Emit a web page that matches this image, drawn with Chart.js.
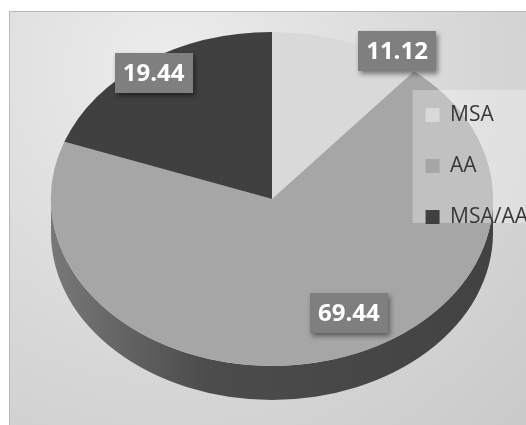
<!DOCTYPE html>
<html>
<head>
<meta charset="utf-8">
<script src="https://cdn.jsdelivr.net/npm/chart.js@4/dist/chart.umd.min.js"></script>
<style>
  html, body { margin: 0; padding: 0; background: #ffffff; }
  canvas { display: block; }
</style>
</head>
<body>
<canvas id="chart" width="526" height="425"></canvas>
<script>
// Shares of each group (percent)
const categories = ['MSA', 'AA', 'MSA/AA'];
const shares = [11.12, 69.44, 19.44];
const sliceColors = ['#d9d9d9', '#a6a6a6', '#404040'];

// Tilted pie: top-face ellipse and rim depth
const PIE = { cx: 272, cy: 199, rx: 221, ry: 167, depth: 34 };
// Value-label anchors on the unit ellipse: angle (deg, clockwise from top), radius fraction
const labelAnchors = [
  { a: 32.6, r: 1.05 },
  { a: 153, r: 0.766 },
  { a: 324.6, r: 0.925 }
];

function shade(hex, f) {
  const n = parseInt(hex.slice(1), 16);
  const r = Math.round(((n >> 16) & 255) * f);
  const g = Math.round(((n >> 8) & 255) * f);
  const b = Math.round((n & 255) * f);
  return `rgb(${r},${g},${b})`;
}

// Panel background with soft lighting from the upper left
const panelBackground = {
  id: 'panelBackground',
  beforeDraw(chart) {
    const ctx = chart.ctx;
    ctx.save();
    ctx.fillStyle = '#ffffff';
    ctx.fillRect(0, 0, chart.width, chart.height);
    const g = ctx.createRadialGradient(170, 70, 10, 170, 70, 560);
    g.addColorStop(0, '#ececec');
    g.addColorStop(0.55, '#d6d6d6');
    g.addColorStop(1, '#c6c6c6');
    ctx.fillStyle = g;
    ctx.fillRect(9, 11, chart.width - 9, chart.height - 11);
    ctx.strokeStyle = '#b8b8b8';
    ctx.lineWidth = 1;
    ctx.beginPath();
    ctx.moveTo(9.5, chart.height);
    ctx.lineTo(9.5, 11.5);
    ctx.lineTo(chart.width, 11.5);
    ctx.stroke();
    ctx.restore();
  }
};

// Draws the pie as a tilted disc: rim first, then the arcs squashed onto the ellipse
const tiltedPie = {
  id: 'tiltedPie',
  afterInit(chart) {
    // keep the legend above the pie
    const lg = chart.legend;
    lg._layers = () => [{ z: 10, draw: () => { drawLegendPanel(chart); lg.draw(); } }];
  },
  beforeDatasetsDraw(chart) {
    const ctx = chart.ctx;
    const meta = chart.getDatasetMeta(0);
    const { cx, cy, rx, ry, depth } = PIE;
    ctx.save();
    meta.data.forEach((el, i) => {
      const { startAngle, endAngle } = el.getProps(['startAngle', 'endAngle'], true);
      const a = Math.max(startAngle, 0);
      const b = Math.min(endAngle, Math.PI);
      if (b <= a) return;
      const base = sliceColors[i];
      const g = ctx.createLinearGradient(cx - rx, 0, cx + rx, 0);
      g.addColorStop(0, shade(base, 0.72));
      g.addColorStop(0.35, shade(base, 0.46));
      g.addColorStop(1, shade(base, 0.40));
      ctx.beginPath();
      ctx.ellipse(cx, cy, rx, ry, 0, a, b, false);
      ctx.ellipse(cx, cy + depth, rx, ry, 0, b, a, true);
      ctx.closePath();
      ctx.fillStyle = g;
      ctx.fill();
    });
    ctx.restore();

    const el0 = meta.data[0];
    const { x, y, outerRadius } = el0.getProps(['x', 'y', 'outerRadius'], true);
    ctx.save();
    ctx.translate(cx, cy);
    ctx.scale(rx / outerRadius, ry / outerRadius);
    ctx.translate(-x, -y);
  },
  afterDatasetsDraw(chart) {
    const ctx = chart.ctx;
    ctx.restore();
    // value labels
    const { cx, cy, rx, ry } = PIE;
    ctx.save();
    ctx.font = 'bold 24px "Open Sans", sans-serif';
    ctx.textAlign = 'center';
    ctx.textBaseline = 'middle';
    shares.forEach((v, i) => {
      const an = labelAnchors[i];
      const t = an.a * Math.PI / 180;
      const px = cx + rx * an.r * Math.sin(t);
      const py = cy - ry * an.r * Math.cos(t);
      const txt = v.toFixed(2);
      const w = ctx.measureText(txt).width + 16;
      const h = 40;
      ctx.save();
      ctx.shadowColor = 'rgba(0,0,0,0.45)';
      ctx.shadowBlur = 5;
      ctx.shadowOffsetX = 2;
      ctx.shadowOffsetY = 3;
      ctx.fillStyle = '#7f7f7f';
      ctx.fillRect(Math.round(px - w / 2), Math.round(py - h / 2), Math.round(w), h);
      ctx.restore();
      ctx.fillStyle = '#ffffff';
      ctx.fillText(txt, px, py + 1);
    });
    ctx.restore();
  }
};

function drawLegendPanel(chart) {
  const boxes = chart.legend.legendHitBoxes;
  if (!boxes || !boxes.length) return;
  const first = boxes[0], last = boxes[boxes.length - 1];
  const left = first.left - 13;
  const top = first.top + first.height / 2 - 25;
  const bottom = last.top + last.height / 2 + 6;
  const ctx = chart.ctx;
  ctx.save();
  ctx.fillStyle = 'rgba(255,255,255,0.3)';
  ctx.fillRect(left, top, chart.width - left, bottom - top);
  ctx.restore();
}

new Chart(document.getElementById('chart'), {
  type: 'pie',
  data: {
    labels: categories,
    datasets: [{
      data: shares,
      backgroundColor: sliceColors,
      borderWidth: 0,
      clip: false
    }]
  },
  options: {
    responsive: false,
    animation: false,
    devicePixelRatio: 1,
    layout: { padding: { top: 0, right: -12, bottom: 93, left: 0 } },
    plugins: {
      legend: {
        position: 'right',
        labels: {
          boxWidth: 14,
          boxHeight: 14,
          padding: 30,
          color: '#383838',
          font: { family: '"Open Sans", sans-serif', size: 21 }
        }
      },
      tooltip: { enabled: false }
    }
  },
  plugins: [panelBackground, tiltedPie]
});
</script>
</body>
</html>
